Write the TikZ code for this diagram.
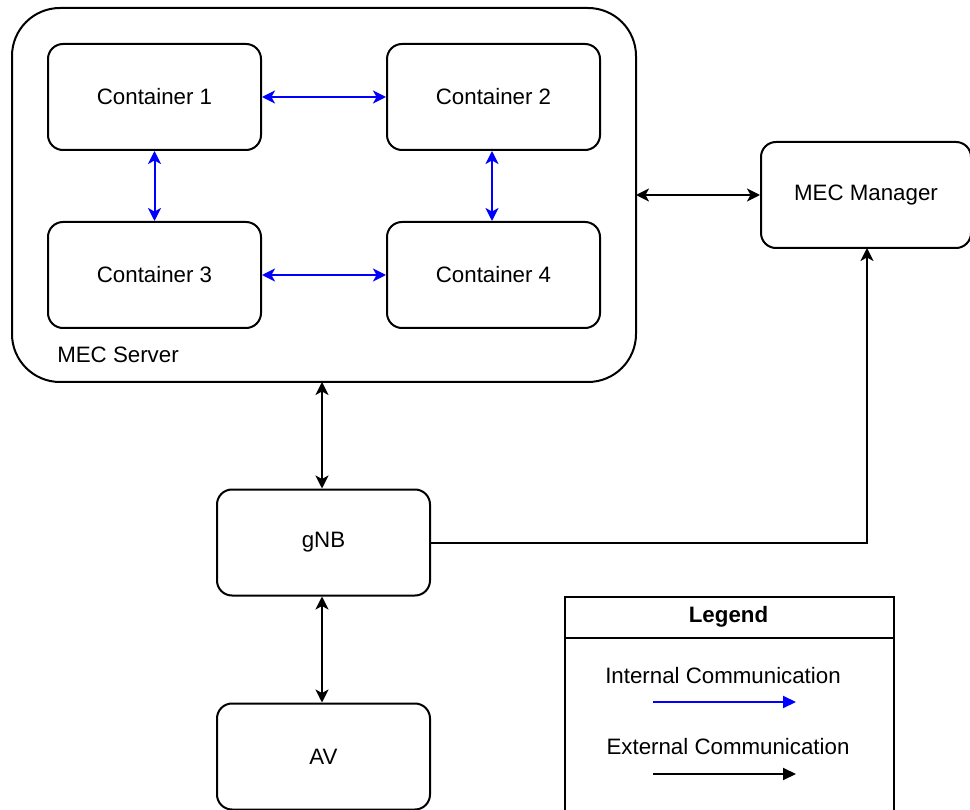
\documentclass[tikz,border=0pt]{standalone}
\usepackage{fontspec}
\setmainfont{Liberation Sans}
\usetikzlibrary{arrows.meta}
\begin{document}
\begin{tikzpicture}[x=1pt,y=-1pt,
  box/.style={draw=black,line width=2pt,rounded corners=15pt,fill=white},
  lbl/.style={font=\fontsize{22.3}{26}\selectfont},
  tip/.style={Stealth[length=13pt,width=13pt,inset=3.5pt]},
  intl/.style={draw={rgb,255:red,0;green,0;blue,255},line width=2pt,{Stealth[length=13pt,width=13pt,inset=3.5pt]}-{Stealth[length=13pt,width=13pt,inset=3.5pt]}},
  extl/.style={draw=black,line width=2pt,{Stealth[length=13pt,width=13pt,inset=3.5pt]}-{Stealth[length=13pt,width=13pt,inset=3.5pt]}},
  onearrow/.style={line width=2pt,-{Triangle[length=13pt,width=12pt]}}]
\useasboundingbox (0,0) rectangle (970,810);
% MEC server enclosure
\draw[line width=2pt,rounded corners=48pt] (12,8) rectangle (636,382);
\coordinate (srvR) at (636,195);
\coordinate (srvB) at (322,382);
\node[lbl,anchor=center] (srvlbl) at (118,355) {MEC Server};
% containers
\node[box,lbl,minimum width=213pt,minimum height=106pt] (c1) at (154.5,97) {Container 1};
\node[box,lbl,minimum width=213pt,minimum height=106pt] (c2) at (493.5,97) {Container 2};
\node[box,lbl,minimum width=213pt,minimum height=106pt] (c3) at (154.5,275) {Container 3};
\node[box,lbl,minimum width=213pt,minimum height=106pt] (c4) at (493.5,275) {Container 4};
% external nodes
\node[box,lbl,minimum width=210pt,minimum height=106pt] (mgr) at (866,195) {MEC Manager};
\node[box,lbl,minimum width=213pt,minimum height=106pt] (gnb) at (323.5,542.5) {gNB};
\node[box,lbl,minimum width=213pt,minimum height=106pt] (av) at (323.5,756.5) {AV};
% internal links
\draw[intl] (c1.east) -- (c2.west);
\draw[intl] (c3.east) -- (c4.west);
\draw[intl] (c1.south) -- (c3.north);
\draw[intl] (c2.south -| 492,0) -- (c4.north -| 492,0);
% external links
\draw[extl] (srvR) -- (mgr.west);
\draw[extl] (srvB) -- (gnb.north -| srvB);
\draw[extl] (gnb.south -| srvB) -- (av.north -| srvB);
\coordinate (mgrB) at (867,248);
\draw[line width=2pt,-{Stealth[length=13pt,width=13pt,inset=3.5pt]}] (gnb.east) -| (mgrB);
% legend
\node[draw,line width=1.8pt,minimum width=329pt,minimum height=214pt,anchor=north west] (leg) at (564,596) {};
\draw[line width=1.8pt] (564,638) -- (893,638);
\node[lbl,font=\fontsize{22.3}{26}\selectfont\bfseries] (legT) at (728.5,617) {Legend};
\node[lbl] (legI) at (723,676) {Internal Communication};
\node[lbl] (legE) at (728,747) {External Communication};
\coordinate (i1) at (653,702); \coordinate (i2) at (796,702);
\coordinate (e1) at (653,774); \coordinate (e2) at (796,774);
\draw[onearrow,draw={rgb,255:red,0;green,0;blue,255},fill={rgb,255:red,0;green,0;blue,255}] (i1) -- (i2);
\draw[onearrow,draw=black,fill=black] (e1) -- (e2);
\end{tikzpicture}
\end{document}
